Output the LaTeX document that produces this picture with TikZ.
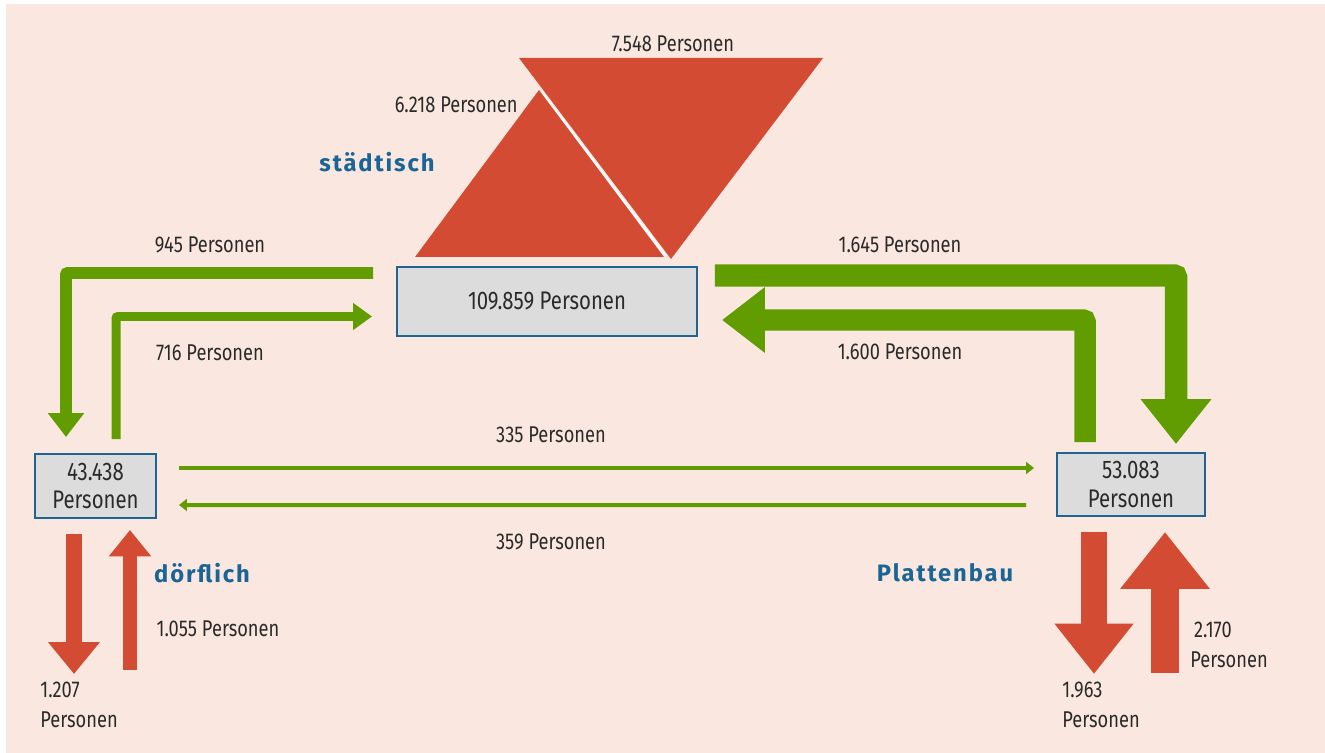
\documentclass[tikz,border=0pt]{standalone}
\usepackage{fontspec}
\setmainfont{Fira Sans}[FakeStretch=0.8]
\newfontfamily\tagfont{Fira Sans}[LetterSpace=8]
\usepackage{xcolor}
\usetikzlibrary{arrows.meta,calc,positioning}
\definecolor{bgpink}{HTML}{FAE8E0}
\definecolor{flowgreen}{HTML}{619C00}
\definecolor{flowred}{HTML}{D44B33}
\definecolor{boxblue}{HTML}{1E6594}
\definecolor{boxgrey}{HTML}{DCDCDC}
\definecolor{tagblue}{HTML}{1A6496}
\definecolor{txtdark}{HTML}{2B2A29}
\newcommand{\lblsize}{\fontsize{13}{17}\selectfont}
\newcommand{\boxsize}{\fontsize{14.5}{16}\selectfont}
\newcommand{\tagsize}{\fontsize{13.5}{16}\selectfont}

\begin{document}
\begin{tikzpicture}[
  x=0.02cm,y=-0.02cm,
  box/.style={draw=boxblue,line width=0.05cm,fill=boxgrey,inner sep=0pt,outer sep=0pt,align=center,text=txtdark,font=\boxsize},
  lbl/.style={text=txtdark,inner sep=0pt,font=\lblsize},
  tag/.style={text=tagblue,inner sep=0pt,font=\tagfont\bfseries\tagsize},
  flow/.style n args={4}{draw=#1,line width=#2,rounded corners=0.04cm,-{Triangle[length=#3,width=#4]}},
  wedge/.style={fill=flowred}
]
\fill[white] (0,0) rectangle (1325,753);
\fill[bgpink] (6,4) rectangle (1325,753);
\useasboundingbox (0,0) rectangle (1325,753);

% boxes
\node[box,minimum width=6cm,minimum height=1.38cm] (stadt) at (547,301.5) {109.859 Personen};
\node[box,minimum width=2.42cm,minimum height=1.28cm] (dorf) at (95.5,486) {43.438\\Personen};
\node[box,minimum width=2.96cm,minimum height=1.26cm] (platte) at (1131,484.5) {53.083\\Personen};

% wedges above the city box
\draw[white,line width=0.06cm] (541,92) -- (665,256);
\fill[wedge] (415,257) -- (539,90) -- (664,257) -- cycle;
\fill[wedge] (519,58) -- (823,58) -- (671,259) -- cycle;

% green flows
\draw[flow={flowgreen}{0.24cm}{0.48cm}{0.70cm}] ($(stadt.west)+(-24,-28.5)$) -| ($(dorf.north)+(-29.5,-17)$);
\draw[flow={flowgreen}{0.18cm}{0.38cm}{0.52cm}] ($(dorf.north)+(20.5,-15)$) |- ($(stadt.west)+(-25,15)$);
\draw[flow={flowgreen}{0.45cm}{0.90cm}{1.36cm}] ($(stadt.east)+(18,-26)$) -| ($(platte.north)+(45,-9)$);
\draw[flow={flowgreen}{0.43cm}{0.86cm}{1.26cm}] ($(platte.north)+(-46,-11)$) |- ($(stadt.east)+(25,18.5)$);
\draw[flow={flowgreen}{0.08cm}{0.16cm}{0.24cm}] ($(dorf.east)+(23,-18)$) -- ($(platte.west)+(-23,-16.5)$);
\draw[flow={flowgreen}{0.08cm}{0.16cm}{0.24cm}] ($(platte.west)+(-31,20.5)$) -- ($(dorf.east)+(23,19)$);

% red flows
\draw[flow={flowred}{0.32cm}{0.64cm}{1.00cm}] ($(dorf.south)+(-21.5,16)$) -- ($(dorf.south)+(-21.5,156)$);
\draw[flow={flowred}{0.28cm}{0.53cm}{0.82cm}] ($(dorf.south)+(34.5,152)$) -- ($(dorf.south)+(34.5,12)$);
\draw[flow={flowred}{0.52cm}{1.01cm}{1.52cm}] ($(platte.south)+(-37,16.5)$) -- ($(platte.south)+(-37,158)$);
\draw[flow={flowred}{0.56cm}{1.14cm}{1.72cm}] ($(platte.south)+(34,157)$) -- ($(platte.south)+(34,16)$);

% labels
\node[lbl] (l7548) at (673,44) {7.548 Personen};
\node[lbl,anchor=east] (l6218) at (518,105) {6.218 Personen};
\node[tag] (tstadt) at (377,162) {städtisch};
\node[lbl] (l945) at (210,245) {945 Personen};
\node[lbl] (l716) at (210,353) {716 Personen};
\node[lbl] (l1645) at (900,245) {1.645 Personen};
\node[lbl] (l1600) at (900,352) {1.600 Personen};
\node[lbl] (l335) at (551,435) {335 Personen};
\node[lbl] (l359) at (551,542) {359 Personen};
\node[tag] (tdorf) at (202,573) {dörflich};
\node[tag] (tplatte) at (945,573) {Plattenbau};
\node[lbl] (l1055) at (218,629) {1.055 Personen};
\node[lbl,anchor=west,align=left] (l1207) at (40,705) {1.207\\Personen};
\node[lbl,anchor=west,align=left] (l1963) at (1062,705) {1.963\\Personen};
\node[lbl,anchor=west,align=left] (l2170) at (1190,645) {\,2.170\\Personen};
\end{tikzpicture}
\end{document}
